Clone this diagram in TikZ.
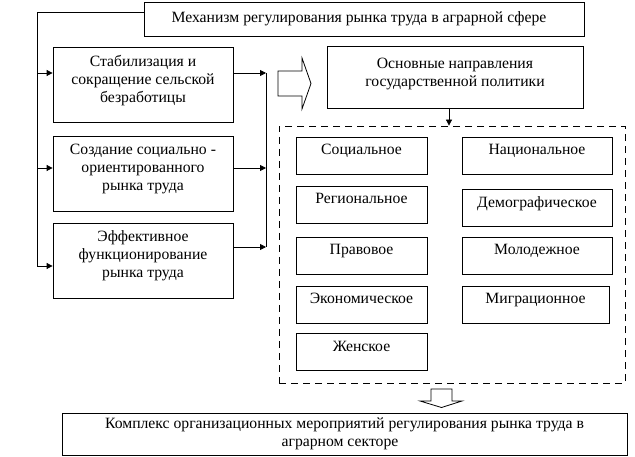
\documentclass[tikz,border=0pt]{standalone}
\usepackage{fontspec}
\setmainfont{Liberation Serif}
\usetikzlibrary{arrows.meta}
\begin{document}
\begin{tikzpicture}[x=1pt,y=-1pt,
  box/.style={draw, line width=0.8pt, align=center, inner sep=0pt, font=\fontsize{15.7}{18}\selectfont},
  lbox/.style={box, minimum width=180pt, minimum height=75pt},
  cbox/.style={box, minimum width=131pt, minimum height=37pt},
  rbox/.style={box, minimum width=150pt, minimum height=37pt},
  conn/.style={line width=0.8pt},
  arr/.style={conn, -{Triangle[length=6pt,width=6pt]}},
  blockarrow/.style={draw, line width=0.8pt, fill=white}]
\useasboundingbox (0,0) rectangle (635,457);
\node[box, minimum width=440pt, minimum height=34pt] (top) at (364,19) {Механизм регулирования рынка труда в аграрной сфере\hspace*{10pt}};
\node[lbox] (b1) at (143,84.5) {Стабилизация и\\сокращение сельской\\безработицы\\[-6pt]};
\node[lbox] (b2) at (143,173.5) {Создание социально -\\ориентированного\\рынка труда\\[-6pt]};
\node[lbox] (b3) at (143,260.5) {Эффективное\\функционирование\\рынка труда\\[-6pt]};
\node[box, minimum width=256pt, minimum height=62pt] (main) at (455,77) {Основные направления\\государственной политики\\[-8pt]};
\node[draw, line width=0.8pt, dash pattern=on 7pt off 5pt, minimum width=346pt, minimum height=257pt, inner sep=0pt] (dash) at (452,254.5) {};
\node[cbox] (l1) at (361.5,155.5) {Социальное\\[-6pt]};
\node[cbox] (l2) at (361.5,204.5) {Региональное\\[-6pt]};
\node[cbox] (l3) at (361.5,255.5) {Правовое\\[-6pt]};
\node[cbox] (l4) at (361.5,304.5) {Экономическое\\[-6pt]};
\node[cbox] (l5) at (361.5,352) {Женское\\[-6pt]};
\node[rbox] (r1) at (537,155.5) {Национальное\\[-6pt]};
\node[rbox] (r2) at (537,208) {Демографическое\\[-6pt]};
\node[rbox] (r3) at (537,255.5) {Молодежное\\[-6pt]};
\node[rbox, minimum width=147pt] (r4) at (535.5,304.5) {Миграционное\\[-6pt]};
\node[box, minimum width=565pt, minimum height=42pt] (bot) at (344.5,434) {Комплекс организационных мероприятий регулирования рынка труда в\\аграрном секторе\hspace*{9pt}};
% left bracket
\coordinate (tl) at (144,12);
\coordinate (lc) at (37,12);
\coordinate (a1) at (37,73);
\coordinate (a2) at (37,168);
\coordinate (a3) at (37,266);
\draw[conn] (tl) -- (lc) -- (a3);
\draw[arr] (a1) -- (b1.west |- a1);
\draw[arr] (a2) -- (b2.west |- a2);
\draw[arr] (a3) -- (b3.west |- a3);
% right bracket
\coordinate (c1) at (266,73);
\coordinate (c2) at (266,168);
\coordinate (c3) at (266,247);
\draw[conn] (c1) -- (c3);
\draw[arr] (b1.east |- c1) -- (c1);
\draw[arr] (b2.east |- c2) -- (c2);
\draw[arr] (b3.east |- c3) -- (c3);
% main to dashed
\coordinate (m1) at (449,108);
\draw[arr] (m1) -- (m1 |- dash.north);
% block arrows
\draw[blockarrow] (278,71) -- (302,71) -- (302,58) -- (311,83.5) -- (302,109) -- (302,96) -- (278,96) -- cycle;
\draw[blockarrow] (431,389) -- (452,389) -- (452,401) -- (462,401) -- (441.5,407.5) -- (420,401) -- (431,401) -- cycle;
\end{tikzpicture}
\end{document}
